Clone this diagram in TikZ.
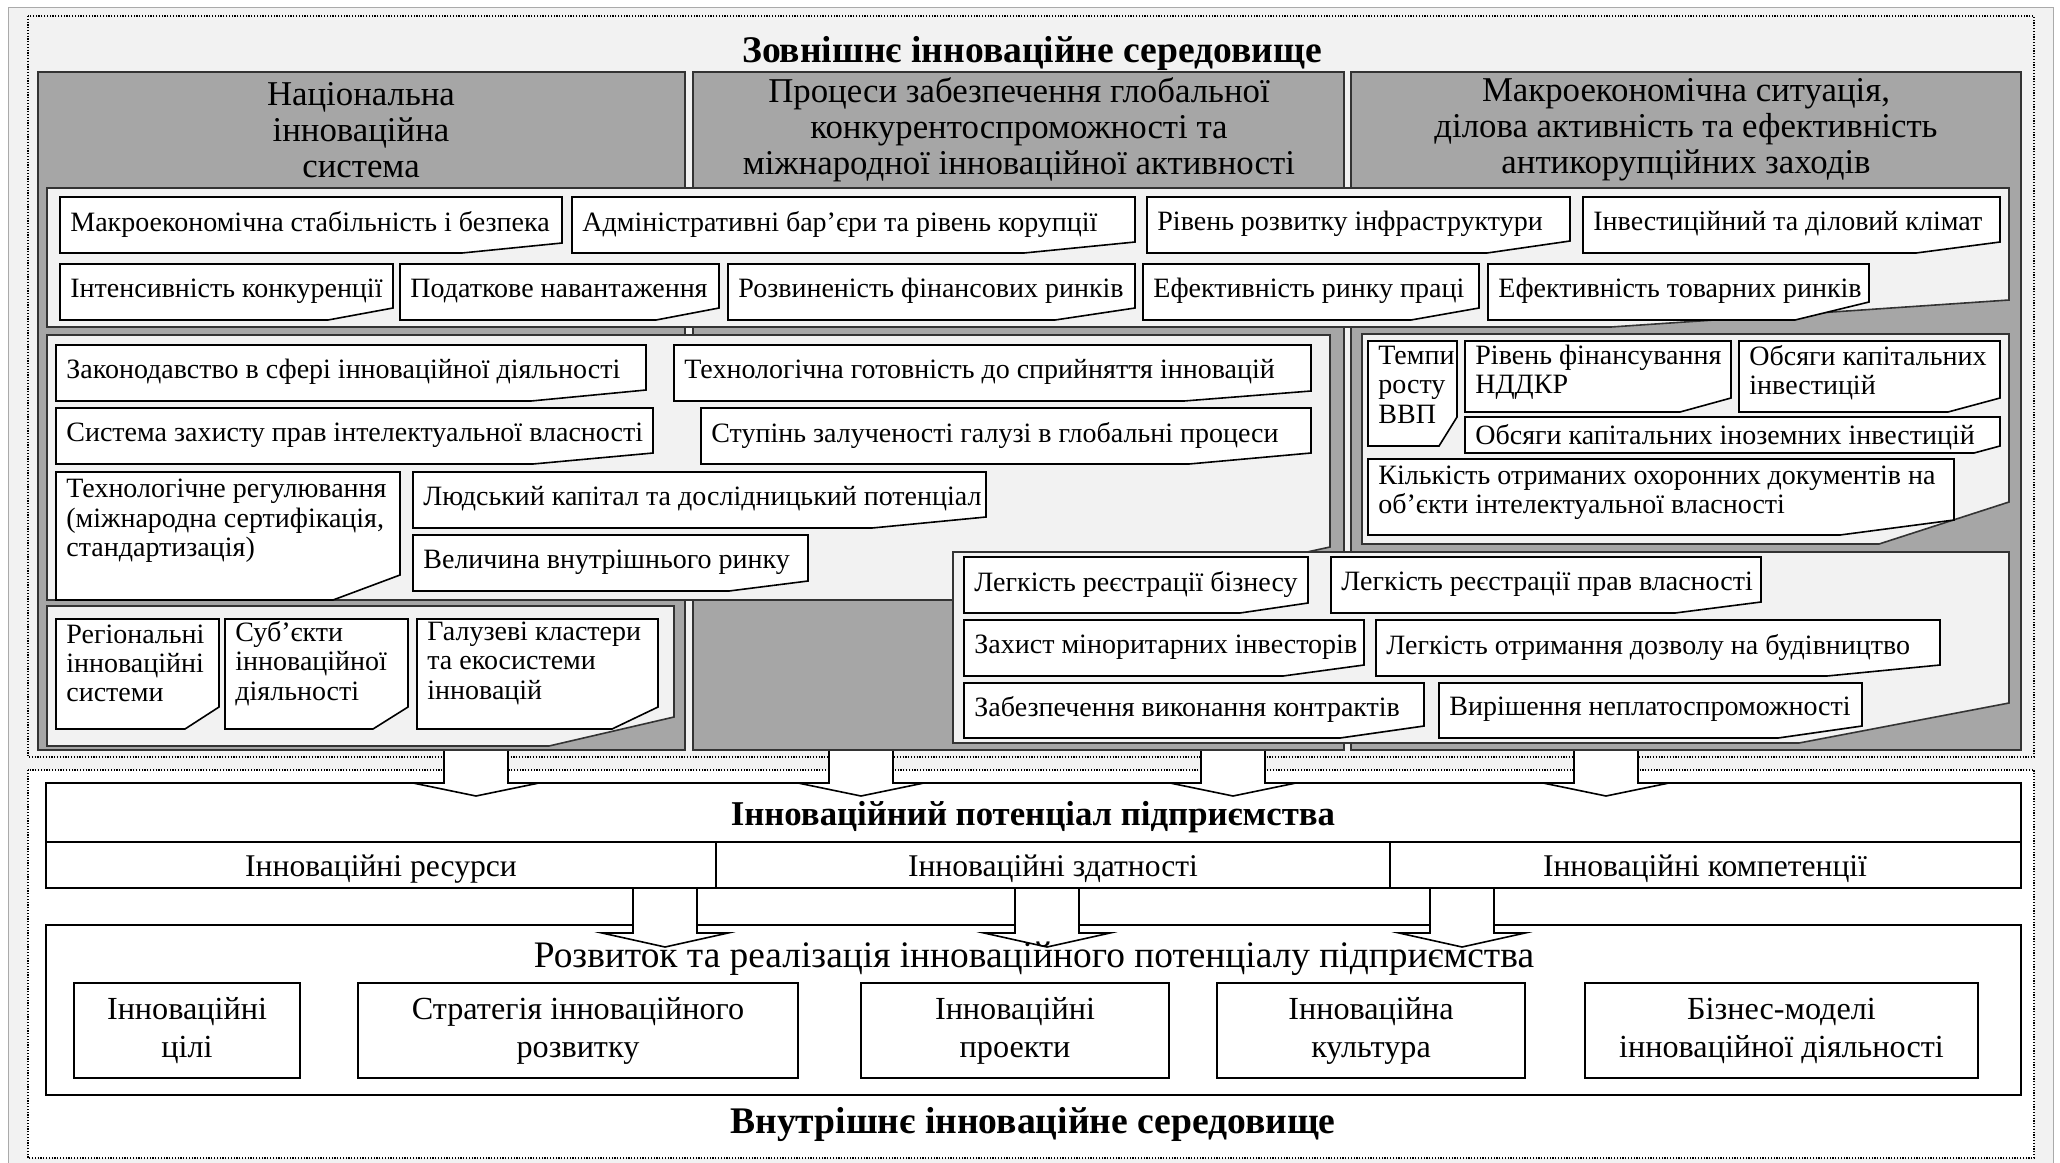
\documentclass[tikz,border=0pt]{standalone}
\usepackage{fontspec}
\setmainfont{Liberation Serif}
\usetikzlibrary{calc}
\definecolor{colgray}{RGB}{166,166,166}
\definecolor{panelgray}{RGB}{242,242,242}
\definecolor{framegray}{RGB}{170,170,170}
\tikzset{
  column/.style={fill=colgray, draw=black!80, line width=1pt},
  panel/.style={fill=panelgray, draw=black!80, line width=0.8pt},
  itembox/.style={fill=white, draw=black, line width=0.8pt},
  itemtext/.style={anchor=west, align=left, inner xsep=5pt, inner ysep=0pt,
    font=\fontsize{14}{14.7}\selectfont},
  coltitle/.style={align=center, font=\fontsize{17.4}{18}\selectfont},
  heading/.style={anchor=base, font=\fontsize{18.8}{20}\selectfont\bfseries},
  celltext/.style={anchor=base, font=\fontsize{15.8}{17}\selectfont},
  goalbox/.style={draw=black, line width=0.9pt, fill=white, align=center,
    inner sep=0pt, font=\fontsize{16.1}{19}\selectfont},
  envframe/.style={draw=black, line width=0.6pt, dash pattern=on 0.6pt off 0.8pt},
  blockarr/.style={fill=white, draw=black, line width=0.8pt},
}
% box with a cut bottom right corner: [opts]{name}{x1}{y1}{x2}{y2}{xb}{yr}{text}
\newcommand{\cutbox}[9][]{%
  \draw[itembox] (#3,#4) -- (#5,#4) -- (#5,#8) -- (#7,#6) -- (#3,#6) -- cycle;
  \node[itemtext,#1] (#2) at (#3,{(#4+#6)/2-1}) {#9};
}
\newcommand{\cutpanel}[6]{%
  \draw[panel] (#1,#2) -- (#3,#2) -- (#3,#6) -- (#5,#4) -- (#1,#4) -- cycle;
}
% hollow arrow: {cx}{ytop}{ybase}{ytip}
\newcommand{\blockarrow}[4]{%
  \draw[blockarr] (#1-32,#2) -- (#1-32,#3) -- (#1-63,#3) -- (#1,#4)
    -- (#1+63,#3) -- (#1+32,#3) -- (#1+32,#2);
}

\begin{document}
\begin{tikzpicture}[x=0.5pt, y=-0.5pt]
  \useasboundingbox (0,0) rectangle (2060,1162);
  \fill[white] (0,0) rectangle (2060,1162);
  \draw[framegray, fill=panelgray, line width=0.5pt] (8,7) rectangle (2053,1175);

  % environments
  \draw[envframe, fill=panelgray] (28,16) rectangle (2034,757);
  \draw[envframe, fill=white] (28,770) rectangle (2034,1158);
  \node[heading] (ext) at (1032,62) {Зовнішнє інноваційне середовище};

  % columns
  \draw[column] (38,72) rectangle (685,750);
  \draw[column] (693,72) rectangle (1344,750);
  \draw[column] (1351,72) rectangle (2021,750);
  \node[coltitle] (nis) at (361,130) {Національна\\інноваційна\\система};
  \node[coltitle] (proc) at (1019,130) {Процеси забезпечення глобальної\\конкурентоспроможності та\\міжнародної інноваційної активності};
  \node[coltitle] (macro) at (1686,130) {Макроекономічна ситуація,\\ділова активність та ефективність\\антикорупційних заходів};

  % common factors
  \cutpanel{47}{188}{2009}{327}{1611}{300}
  \cutbox{mse}{60}{197}{562}{253}{462}{243}{Макроекономічна стабільність і безпека}
  \cutbox{abk}{572}{197}{1135}{253}{1024}{242}{Адміністративні бар’єри та рівень корупції}
  \cutbox{rri}{1147}{197}{1570}{253}{1487}{241}{Рівень розвитку інфраструктури}
  \cutbox{idk}{1583}{197}{2000}{253}{1916}{242}{Інвестиційний та діловий клімат}
  \cutbox{ik}{60}{264}{393}{320}{328}{308}{Інтенсивність конкуренції}
  \cutbox{pn}{400}{264}{719}{320}{656}{308}{Податкове навантаження}
  \cutbox{rfr}{728}{264}{1135}{320}{1055}{308}{Розвиненість фінансових ринків}
  \cutbox{erp}{1143}{264}{1479}{320}{1411}{308}{Ефективність ринку праці}
  \cutbox{etr}{1488}{264}{1869}{320}{1795}{302}{Ефективність товарних ринків}

  % national + global
  \cutpanel{47}{335}{1330}{600}{1086}{547}
  \cutbox{zid}{56}{345}{646}{401}{531}{390}{Законодавство в сфері інноваційної діяльності}
  \cutbox{tgs}{674}{345}{1311}{401}{1184}{391}{Технологічна готовність до сприйняття інновацій}
  \cutbox{szp}{56}{408}{653}{464}{533}{453}{Система захисту прав інтелектуальної власності}
  \cutbox{szg}{701}{408}{1311}{464}{1189}{453}{Ступінь залученості галузі в глобальні процеси}
  \cutbox[yshift=7pt]{tr}{56}{472}{400}{600}{333}{575}{Технологічне регулювання\\(міжнародна сертифікація,\\стандартизація)}
  \cutbox{lkd}{413}{472}{986}{528}{872}{517}{Людський капітал та дослідницький потенціал}
  \cutbox{vvr}{413}{535}{808}{591}{729}{581}{Величина внутрішнього ринку}

  % national only
  \cutpanel{47}{606}{674}{746}{549}{717}
  \cutbox[yshift=4.8pt]{ris}{56}{619}{219}{729}{185}{707}{Регіональні\\інноваційні\\системи}
  \cutbox[yshift=4.8pt]{sid}{225}{619}{408}{729}{373}{707}{Суб’єкти\\інноваційної\\діяльності}
  \cutbox[yshift=4.8pt]{gke}{417}{619}{658}{729}{612}{707}{Галузеві кластери\\та екосистеми\\інновацій}

  % macro
  \cutpanel{1362}{334}{2009}{544}{1879}{502}
  \cutbox[yshift=4pt]{trv}{1368}{341}{1457}{446}{1439}{417}{Темпи\\росту\\ВВП}
  \cutbox[yshift=1.5pt]{rfn}{1465}{341}{1731}{412}{1680}{398}{Рівень фінансування\\НДДКР}
  \cutbox[yshift=1.5pt]{oki}{1739}{341}{2000}{412}{1948}{398}{Обсяги капітальних\\інвестицій}
  \cutbox[yshift=-1.5pt]{oii}{1465}{417}{2000}{453}{1974}{446}{Обсяги капітальних іноземних інвестицій}
  \cutbox[yshift=1.5pt]{kod}{1368}{459}{1954}{535}{1840}{520}{Кількість отриманих охоронних документів на\\об’єкти інтелектуальної власності}

  % business
  \cutpanel{953}{552}{2009}{743}{1799}{703}
  \cutbox{lrb}{964}{557}{1308}{613}{1240}{603}{Легкість реєстрації бізнесу}
  \cutbox{lrp}{1331}{557}{1761}{613}{1675}{602}{Легкість реєстрації прав власності}
  \cutbox{zmi}{964}{620}{1364}{676}{1283}{665}{Захист міноритарних інвесторів}
  \cutbox{lod}{1376}{620}{1940}{676}{1827}{665}{Легкість отримання дозволу на будівництво}
  \cutbox{zvk}{964}{683}{1424}{738}{1340}{726}{Забезпечення виконання контрактів}
  \cutbox{vnp}{1439}{683}{1862}{738}{1778}{726}{Вирішення неплатоспроможності}

  % potential
  \draw[black, line width=0.9pt, fill=white] (46,783) rectangle (2021,888);
  \draw[black, line width=0.9pt] (46,842) -- (2021,842) (716,842) -- (716,888) (1390,842) -- (1390,888);
  \node[heading, font=\fontsize{17.4}{19}\selectfont\bfseries] (pot) at (1033,825) {Інноваційний потенціал підприємства};
  \node[celltext] (res) at (381,876) {Інноваційні ресурси};
  \node[celltext] (abl) at (1053,876) {Інноваційні здатності};
  \node[celltext] (com) at (1705,876) {Інноваційні компетенції};

  % development
  \draw[black, line width=0.9pt, fill=white] (46,925) rectangle (2021,1095);
  \node[goalbox, minimum width=113pt, minimum height=47.5pt] (goal) at (187,1030.5) {Інноваційні\\цілі};
  \node[goalbox, minimum width=220pt, minimum height=47.5pt] (strat) at (578,1030.5) {Стратегія інноваційного\\розвитку};
  \node[goalbox, minimum width=154pt, minimum height=47.5pt] (proj) at (1015,1030.5) {Інноваційні\\проекти};
  \node[goalbox, minimum width=154pt, minimum height=47.5pt] (cult) at (1371,1030.5) {Інноваційна\\культура};
  \node[goalbox, minimum width=196.5pt, minimum height=47.5pt] (biz) at (1781.5,1030.5) {Бізнес-моделі\\інноваційної діяльності};

  % arrows
  \foreach \c in {476,861,1233,1606} \blockarrow{\c}{751}{783}{796};
  \foreach \c in {665,1047,1462} \blockarrow{\c}{889}{933}{947};
  \node[celltext, font=\fontsize{18.7}{20}\selectfont] (dev) at (1034,967) {Розвиток та реалізація інноваційного потенціалу підприємства};
  \node[heading] (int) at (1033,1133) {Внутрішнє інноваційне середовище};
\end{tikzpicture}
\end{document}
